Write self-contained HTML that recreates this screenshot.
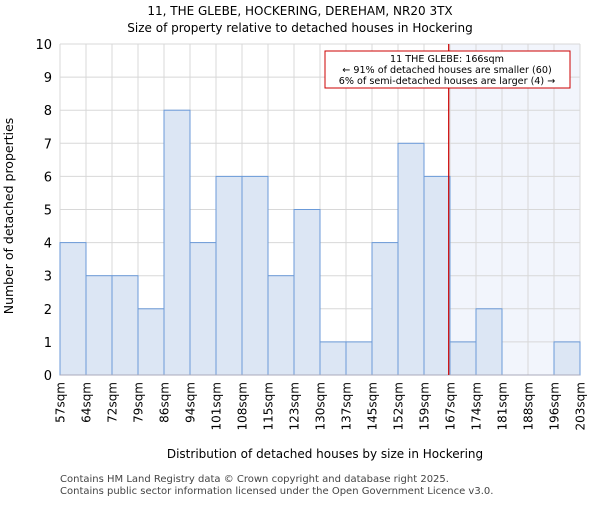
<!DOCTYPE html>
<html><head><meta charset="utf-8"><style>
body{margin:0;background:#fff}
svg{font-family:"DejaVu Sans","Liberation Sans",sans-serif}
</style></head><body>
<svg id="c" width="600" height="500">
<text x="300" y="15" text-anchor="middle" font-size="12">11, THE GLEBE, HOCKERING, DEREHAM, NR20 3TX</text>
<text x="300" y="32" text-anchor="middle" font-size="12">Size of property relative to detached houses in Hockering</text>
<g id="grid"></g>
<g id="bars"></g>
<g id="axes"></g>
<text x="0" y="0" transform="translate(13,216) rotate(-90)" text-anchor="middle" font-size="12.5">Number of detached properties</text>
<text x="325" y="458" text-anchor="middle" font-size="12">Distribution of detached houses by size in Hockering</text>
<text x="60" y="482" font-size="10" fill="#444">Contains HM Land Registry data © Crown copyright and database right 2025.</text>
<text x="60" y="494" font-size="10" fill="#444">Contains public sector information licensed under the Open Government Licence v3.0.</text>
</svg>
<script>
const categories=["57sqm","64sqm","72sqm","79sqm","86sqm","94sqm","101sqm","108sqm","115sqm","123sqm","130sqm","137sqm","145sqm","152sqm","159sqm","167sqm","174sqm","181sqm","188sqm","196sqm","203sqm"];
const counts=[4,3,3,2,8,4,6,6,3,5,1,1,4,7,6,1,2,0,0,1];
const yTicks=[0,1,2,3,4,5,6,7,8,9,10];
const subjectBin=14.95;
const NS="http://www.w3.org/2000/svg";
const L=60,R=580,T=44,B=375,yMax=10;
const bw=(R-L)/counts.length;
const xs=i=>L+i*bw, ys=v=>B-(B-T)*v/yMax;
function mk(tag,attrs,parent){const e=document.createElementNS(NS,tag);for(const k in attrs)e.setAttribute(k,attrs[k]);parent.appendChild(e);return e;}
const grid=document.getElementById('grid'),bars=document.getElementById('bars'),axes=document.getElementById('axes');
mk('rect',{x:L,y:T,width:R-L,height:B-T,fill:'#fff'},grid);
const sx=xs(subjectBin);
const sh=mk('rect',{x:sx,y:T,width:R-sx,height:B-T,fill:'#f2f5fc'},grid);


yTicks.forEach(v=>{
  mk('line',{x1:L,x2:R,y1:ys(v),y2:ys(v),stroke:'#d8d8d8','stroke-width':1},grid);
  const t=mk('text',{x:L-8,y:ys(v)+5,'text-anchor':'end','font-size':13},axes);
  
  
  t.textContent=v;
});
categories.forEach((c,i)=>{
  mk('line',{x1:xs(i),x2:xs(i),y1:T,y2:B,stroke:'#d8d8d8','stroke-width':1},grid);
  const t=mk('text',{x:0,y:0,transform:`translate(${xs(i)+4.5},382) rotate(-90)`,'text-anchor':'end','font-size':12},axes);
  
  
  t.textContent=c;
});
counts.forEach((v,i)=>{
  if(v<=0)return;
  const r=mk('rect',{x:xs(i),y:ys(v),width:bw,height:B-ys(v),fill:'#dce6f4',stroke:'#6b9ad8','stroke-width':1},bars);
  
  
});
mk('line',{x1:L,x2:R,y1:B,y2:B,stroke:'#aab','stroke-width':1},axes);
const ln=mk('line',{x1:sx,x2:sx,y1:T,y2:B,stroke:'#cc0000','stroke-width':1.2},axes);


const box=mk('rect',{x:325,y:51,width:245,height:37,fill:'#fff',stroke:'#cc0000','stroke-width':1},axes);


["11 THE GLEBE: 166sqm","← 91% of detached houses are smaller (60)","6% of semi-detached houses are larger (4) →"].forEach((s,i)=>{
  const t=mk('text',{x:447,y:62+i*11,'text-anchor':'middle','font-size':9.6},axes);
  
  
  t.textContent=s;
});
</script>
</body></html>
